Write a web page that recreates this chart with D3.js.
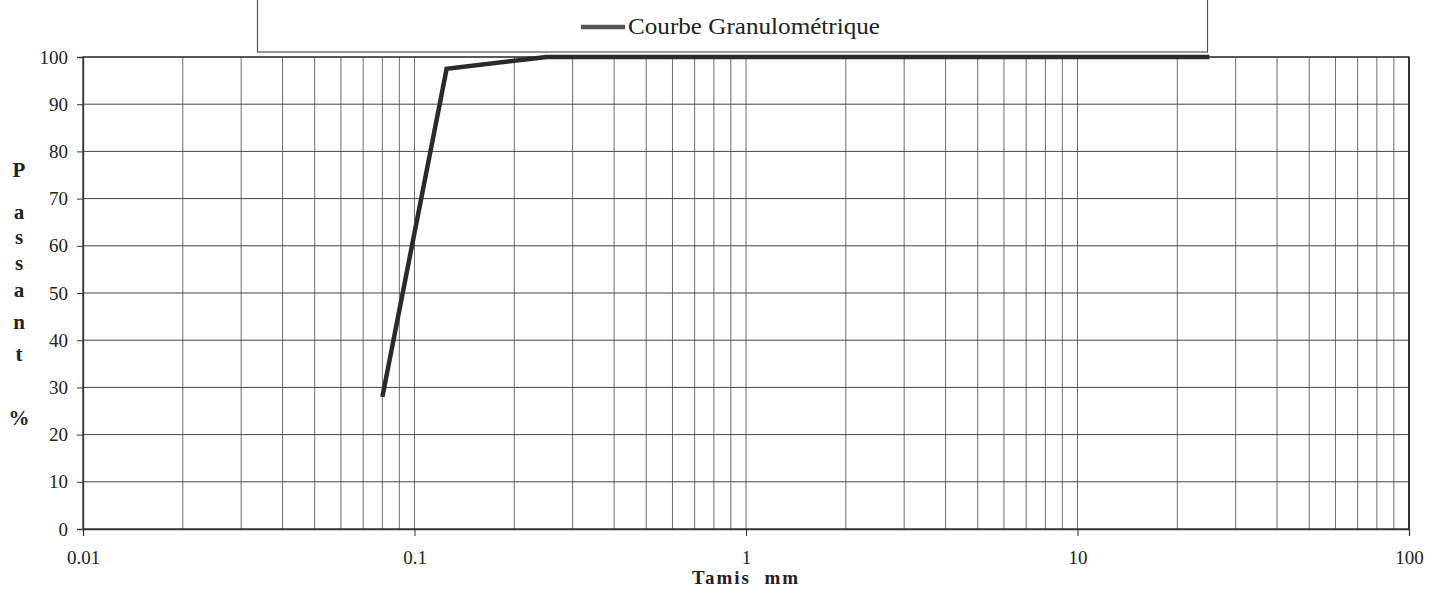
<!DOCTYPE html>
<html>
<head>
<meta charset="utf-8">
<script src="https://cdn.jsdelivr.net/npm/d3@7"></script>
<style>
  body { margin: 0; background: #fff; }
  svg { display: block; }
  text { font-family: "Liberation Serif", "Times New Roman", serif; fill: #222; }
</style>
</head>
<body>
<svg id="chart" width="1438" height="589"></svg>
<script>
// sieve sizes (mm) and percent passing
const sieves = [0.08, 0.125, 0.25, 0.5, 1, 2, 5, 10, 20, 25]
const passing = [28, 97.5, 100, 100, 100, 100, 100, 100, 100, 100]

const xTickValues = [0.01, 0.1, 1, 10, 100]
const xTickLabels = ["0.01", "0.1", "1", "10", "100"]
const yTickValues = [0, 10, 20, 30, 40, 50, 60, 70, 80, 90, 100]
const yTitleLetters = ["P", "a", "s", "s", "a", "n", "t", "%"]
const yTitleRows = [170, 212, 237, 263, 290, 322, 354, 418]
const seriesName = "Courbe Granulométrique"

const width = 1438, height = 589
const margin = { top: 57, right: 29, bottom: 60, left: 83 }

const svg = d3.select("#chart")

const x = d3.scaleLog()
  .domain([0.01, 100])
  .range([margin.left, width - margin.right])

const y = d3.scaleLinear()
  .domain([0, 100])
  .range([height - margin.bottom, margin.top])

// minor vertical grid: 2..9 in every decade
const minorX = []
for (let d = 0.01; d < 100; d *= 10) {
  for (let k = 2; k <= 9; k++) minorX.push(+(d * k).toPrecision(3))
}

const grid = svg.append("g")
grid.selectAll("line.vx")
  .data(minorX.concat(xTickValues.slice(1, -1)))
  .enter().append("line")
  .attr("x1", d => x(d)).attr("x2", d => x(d))
  .attr("y1", y(0)).attr("y2", y(100))
  .attr("stroke", "#6e6e6e")
  .attr("stroke-width", 1)

grid.selectAll("line.hy")
  .data(yTickValues.slice(1))
  .enter().append("line")
  .attr("x1", x(0.01)).attr("x2", x(100))
  .attr("y1", d => y(d)).attr("y2", d => y(d))
  .attr("stroke", "#444")
  .attr("stroke-width", 1)

// plot frame
svg.append("rect")
  .attr("x", x(0.01)).attr("y", y(100))
  .attr("width", x(100) - x(0.01))
  .attr("height", y(0) - y(100))
  .attr("fill", "none")
  .attr("stroke", "#333")
  .attr("stroke-width", 1.3)
svg.append("line")
  .attr("x1", x(100)).attr("x2", x(100))
  .attr("y1", y(100)).attr("y2", y(0))
  .attr("stroke", "#333").attr("stroke-width", 2)

// axes
const xAxis = svg.append("g")
  .attr("transform", `translate(0,${y(0)})`)
  .call(d3.axisBottom(x)
    .tickValues(xTickValues)
    .tickFormat((d, i) => xTickLabels[i])
    .tickSize(7)
    .tickPadding(15))
xAxis.select(".domain").attr("stroke", "#333").attr("stroke-width", 1.3)
xAxis.selectAll(".tick line").attr("stroke", "#333")
xAxis.selectAll("text")
  .attr("font-size", 19)
  .attr("font-family", "Liberation Serif, serif")
  .attr("fill", "#222")

const yAxis = svg.append("g")
  .attr("transform", `translate(${x(0.01)},0)`)
  .call(d3.axisLeft(y)
    .tickValues(yTickValues)
    .tickSize(6)
    .tickPadding(9))
yAxis.select(".domain").attr("stroke", "#333").attr("stroke-width", 1.3)
yAxis.selectAll(".tick line").attr("stroke", "#333")
yAxis.selectAll("text")
  .attr("font-size", 19)
  .attr("font-family", "Liberation Serif, serif")
  .attr("fill", "#222")

// axis titles
svg.append("text")
  .attr("x", (x(0.01) + x(100)) / 2)
  .attr("y", 584)
  .attr("text-anchor", "middle")
  .attr("font-size", 19)
  .attr("font-weight", "bold")
  .attr("letter-spacing", 2)
  .attr("xml:space", "preserve")
  .text("Tamis  mm")

svg.selectAll("text.ylet")
  .data(yTitleLetters)
  .enter().append("text")
  .attr("class", "ylet")
  .attr("x", 19)
  .attr("y", (d, i) => yTitleRows[i])
  .attr("dy", "0.35em")
  .attr("text-anchor", "middle")
  .attr("font-size", 21)
  .attr("font-weight", "bold")
  .text(d => d)

// the curve
const line = d3.line()
  .x((d, i) => x(sieves[i]))
  .y(d => y(d))

svg.append("path")
  .datum(passing)
  .attr("d", line)
  .attr("fill", "none")
  .attr("stroke", "#2a2a2a")
  .attr("stroke-width", 4.5)
  .attr("stroke-linejoin", "miter")

// legend box
const legend = svg.append("g")
legend.append("rect")
  .attr("x", 257.5).attr("y", -2)
  .attr("width", 950).attr("height", 54)
  .attr("fill", "#fff")
  .attr("stroke", "#555")
  .attr("stroke-width", 1.2)
legend.append("line")
  .attr("x1", 581).attr("x2", 625)
  .attr("y1", 27).attr("y2", 27)
  .attr("stroke", "#555")
  .attr("stroke-width", 4.5)
legend.append("text")
  .attr("x", 628).attr("y", 34)
  .attr("font-size", 23)
  .attr("textLength", 252)
  .attr("lengthAdjust", "spacingAndGlyphs")
  .text(seriesName)
</script>
</body>
</html>
